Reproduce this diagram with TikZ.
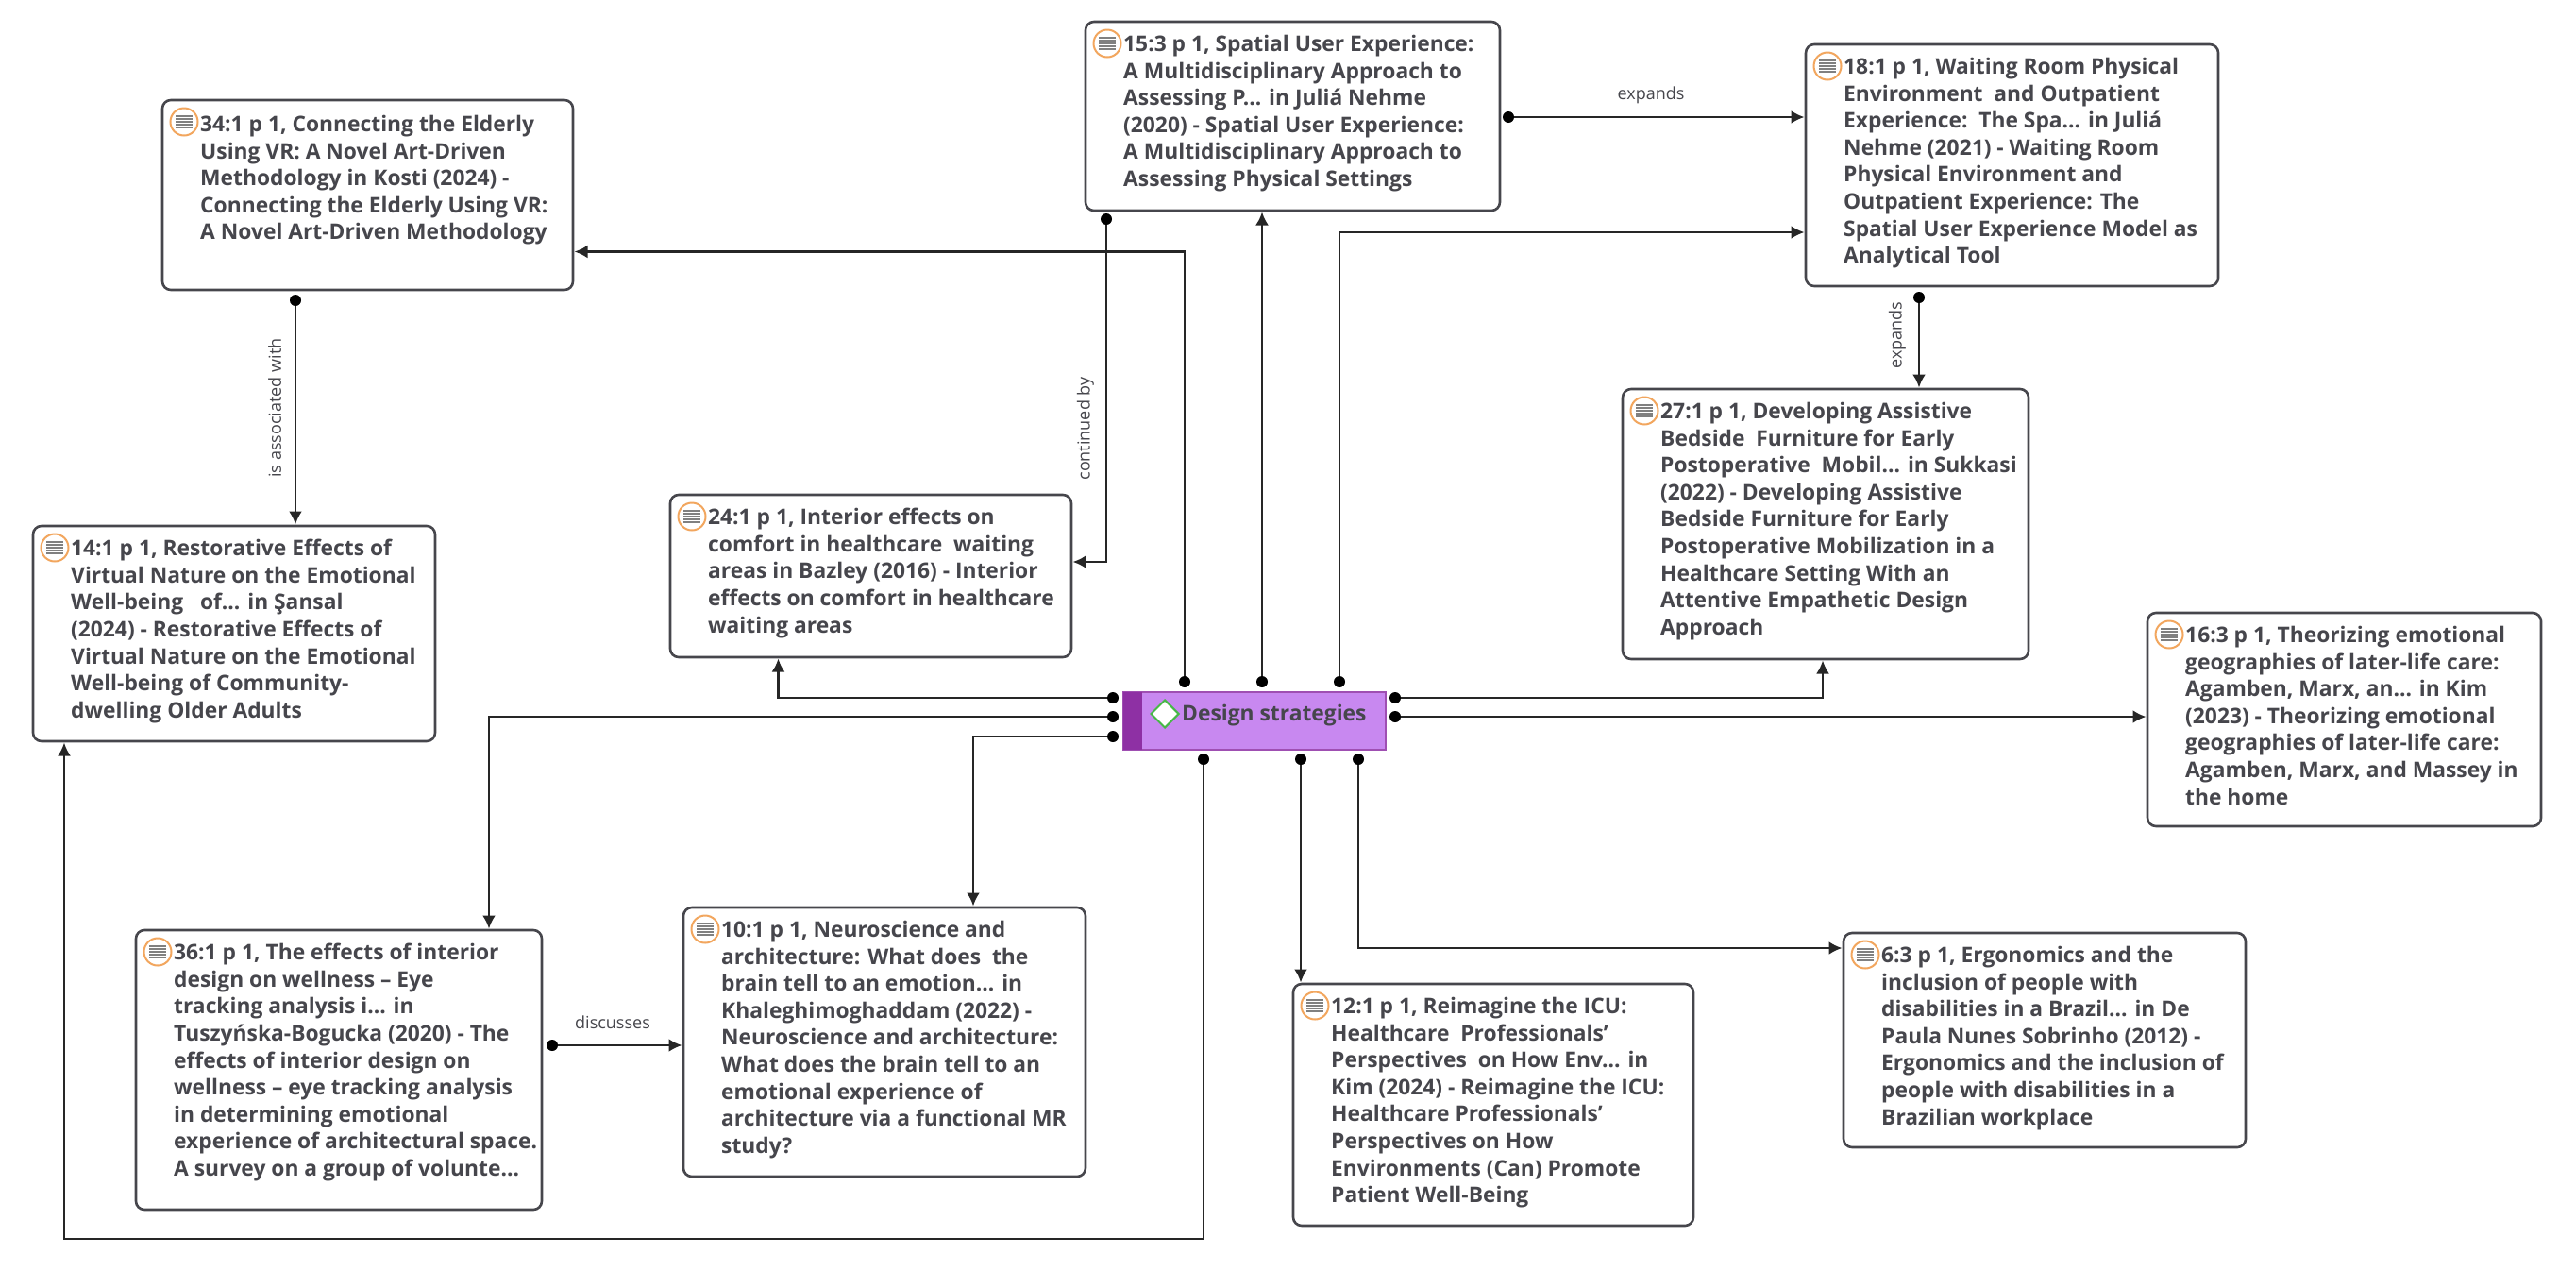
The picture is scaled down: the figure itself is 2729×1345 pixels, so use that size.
\documentclass[tikz,border=0pt]{standalone}
\usepackage{fontspec}
\usepackage{xcolor}
\usepackage{tikz}
\usetikzlibrary{calc,arrows.meta,positioning,shapes.geometric}
\setmainfont{Open Sans}
\definecolor{inkc}{HTML}{46464C}
\definecolor{codec}{HTML}{C888F0}
\definecolor{codedk}{HTML}{8E30A4}
\definecolor{icoc}{HTML}{F2A65E}
\tikzset{
  ar/.style={-{Latex[length=14pt,width=14pt]},line width=2.6pt,black!85,shorten >=1.5pt},
  bx/.style={draw=inkc,line width=2.6pt,rounded corners=9pt,fill=white,anchor=north west,inner sep=0pt,outer sep=0pt},
  tx/.style={anchor=north west,align=left,inner sep=0pt,text=inkc,font=\fontsize{22.8}{28.6}\selectfont\bfseries},
  lb/.style={inner sep=0pt,text=inkc,font=\fontsize{18}{20}\selectfont},
  dt/.style={circle,fill=black,minimum size=12pt,inner sep=0pt},
  ico/.pic={
    \draw[icoc,line width=2pt,fill=white] (0,0) circle (14.5pt);
    \foreach \k in {-6,-3,0,3,6} \draw[black!50,line width=2pt] (-9pt,\k pt) -- (9pt,\k pt);
  }
}
\begin{document}
\begin{tikzpicture}[x=1pt,y=-1pt]
\useasboundingbox (0,0) rectangle (2729,1345);
\node[bx,minimum width=435,minimum height=201] (n34) at (172,106) {};
\node[bx,minimum width=439,minimum height=200] (n15) at (1150,23) {};
\node[bx,minimum width=437,minimum height=256] (n18) at (1913,47) {};
\node[bx,minimum width=430,minimum height=286] (n27) at (1719,412) {};
\node[bx,minimum width=425,minimum height=172] (n24) at (710,524) {};
\node[bx,minimum width=426,minimum height=228] (n14) at (35,557) {};
\node[bx,minimum width=417,minimum height=226] (n16) at (2275,649) {};
\node[bx,minimum width=430,minimum height=296] (n36) at (144,985) {};
\node[bx,minimum width=426,minimum height=285] (n10) at (724,961) {};
\node[bx,minimum width=424,minimum height=256] (n12) at (1370,1042) {};
\node[bx,minimum width=426,minimum height=227] (n6) at (1953,988) {};
\foreach \n in {n34,n15,n18,n27,n24,n14,n16,n36,n10,n12,n6} \pic at ([xshift=23pt,yshift=-23pt]\n.north west) {ico};
\node[tx] (t34) at ([xshift=40pt,yshift=-16pt]n34.north west) {34:1 p 1, Connecting the Elderly\\Using VR: A Novel Art-Driven\\Methodology in Kosti (2024) -\\Connecting the Elderly Using VR:\\A Novel Art-Driven Methodology};
\node[tx] (t15) at ([xshift=40pt,yshift=-14pt]n15.north west) {15:3 p 1, Spatial User Experience:\\A Multidisciplinary Approach to\\Assessing P... in Juliá Nehme\\(2020) - Spatial User Experience:\\A Multidisciplinary Approach to\\Assessing Physical Settings};
\node[tx] (t18) at ([xshift=40pt,yshift=-14pt]n18.north west) {18:1 p 1, Waiting Room Physical\\Environment\ \ and Outpatient\\Experience:\ \ The Spa... in Juliá\\Nehme (2021) - Waiting Room\\Physical Environment and\\Outpatient Experience: The\\Spatial User Experience Model as\\Analytical Tool};
\node[tx] (t27) at ([xshift=40pt,yshift=-14pt]n27.north west) {27:1 p 1, Developing Assistive\\Bedside\ \ Furniture for Early\\Postoperative\ \ Mobil... in Sukkasi\\(2022) - Developing Assistive\\Bedside Furniture for Early\\Postoperative Mobilization in a\\Healthcare Setting With an\\Attentive Empathetic Design\\Approach};
\node[tx] (t24) at ([xshift=40pt,yshift=-14pt]n24.north west) {24:1 p 1, Interior effects on\\comfort in healthcare\ \ waiting\\areas in Bazley (2016) - Interior\\effects on comfort in healthcare\\waiting areas};
\node[tx] (t14) at ([xshift=40pt,yshift=-14pt]n14.north west) {14:1 p 1, Restorative Effects of\\Virtual Nature on the Emotional\\Well-being\ \ \ of... in Şansal\\(2024) - Restorative Effects of\\Virtual Nature on the Emotional\\Well-being of Community-\\dwelling Older Adults};
\node[tx] (t16) at ([xshift=40pt,yshift=-14pt]n16.north west) {16:3 p 1, Theorizing emotional\\geographies of later-life care:\\Agamben, Marx, an... in Kim\\(2023) - Theorizing emotional\\geographies of later-life care:\\Agamben, Marx, and Massey in\\the home};
\node[tx] (t36) at ([xshift=40pt,yshift=-14pt]n36.north west) {36:1 p 1, The effects of interior\\design on wellness – Eye\\tracking analysis i... in\\Tuszyńska-Bogucka (2020) - The\\effects of interior design on\\wellness – eye tracking analysis\\in determining emotional\\experience of architectural space.\\A survey on a group of volunte...};
\node[tx] (t10) at ([xshift=40pt,yshift=-14pt]n10.north west) {10:1 p 1, Neuroscience and\\architecture: What does\ \ the\\brain tell to an emotion... in\\Khaleghimoghaddam (2022) -\\Neuroscience and architecture:\\What does the brain tell to an\\emotional experience of\\architecture via a functional MR\\study?};
\node[tx] (t12) at ([xshift=40pt,yshift=-14pt]n12.north west) {12:1 p 1, Reimagine the ICU:\\Healthcare\ \ Professionals’\\Perspectives\ \ on How Env... in\\Kim (2024) - Reimagine the ICU:\\Healthcare Professionals’\\Perspectives on How\\Environments (Can) Promote\\Patient Well-Being};
\node[tx] (t6) at ([xshift=40pt,yshift=-14pt]n6.north west) {6:3 p 1, Ergonomics and the\\inclusion of people with\\disabilities in a Brazil... in De\\Paula Nunes Sobrinho (2012) -\\Ergonomics and the inclusion of\\people with disabilities in a\\Brazilian workplace};
\node[draw=codedk!85,line width=2pt,fill=codec,anchor=north west,minimum width=278,minimum height=61,inner sep=0pt,outer sep=0pt] (code) at (1190,733) {};
\fill[codedk] (code.north west) rectangle ([xshift=20pt]code.south west);
\node[diamond,draw=green!45!gray,line width=2pt,fill=white,minimum size=30pt,inner sep=0pt] (mark) at (1234,756) {};
\node[inner sep=0pt,text=inkc,font=\fontsize{22.8}{28}\selectfont\bfseries,anchor=west] (codet) at (1252,758) {Design strategies};
\node[dt] (d1) at (1255,722) {}; \node[dt] (d2) at (1337,722) {}; \node[dt] (d3) at (1419,722) {};
\node[dt] (d4) at (1179,739) {}; \node[dt] (d5) at (1179,759) {}; \node[dt] (d6) at (1179,780) {};
\node[dt] (d7) at (1478,739) {}; \node[dt] (d8) at (1478,759) {};
\node[dt] (d9) at (1275,804) {}; \node[dt] (d10) at (1378,804) {}; \node[dt] (d11) at (1439,804) {};
\node[dt] (d12) at (1598,124) {}; \node[dt] (d13) at (1172,232) {}; \node[dt] (d14) at (2033,315) {}; \node[dt] (d15) at (313,318) {}; \node[dt] (d16) at (585,1107) {};
\draw[ar] (d1) |- ([yshift=-60pt]n34.east); \draw[ar] (d2) -- (d2 |- n15.south); \draw[ar] (d3) |- ([yshift=-71pt]n18.east -| n18.west);
\draw[ar] (d4) -| ([xshift=-98pt]n24.south); \draw[ar] (d5) -| ([xshift=374pt]n36.north west); \draw[ar] (d6) -| ([xshift=307pt]n10.north west);
\draw[ar] (d7) -| ([xshift=212pt]n27.south west); \draw[ar] (d8) -- (d8 -| n16.west);
\draw[ar] (d9) -- (1275,1312) -| ([xshift=33pt]n14.south west); \draw[ar] (d10) -- (d10 |- n12.north); \draw[ar] (d11) |- ([yshift=-16pt]n6.north west);
\draw[ar] (d12) -- (d12 -| n18.west); \draw[ar] (d13) |- ([yshift=-71pt]n24.north east); \draw[ar] (d14) -- (d14 |- n27.north); \draw[ar] (d15) -- (d15 |- n14.north); \draw[ar] (d16) -- (d16 -| n10.west);
\node[lb] (l1) at (1749,101) {expands}; \node[lb,rotate=90] (l2) at (1150,454) {continued by}; \node[lb,rotate=90] (l3) at (2010,355) {expands};
\node[lb,rotate=90] (l4) at (291,432) {is associated with}; \node[lb] (l5) at (649,1083) {discusses};
\end{tikzpicture}
\end{document}
